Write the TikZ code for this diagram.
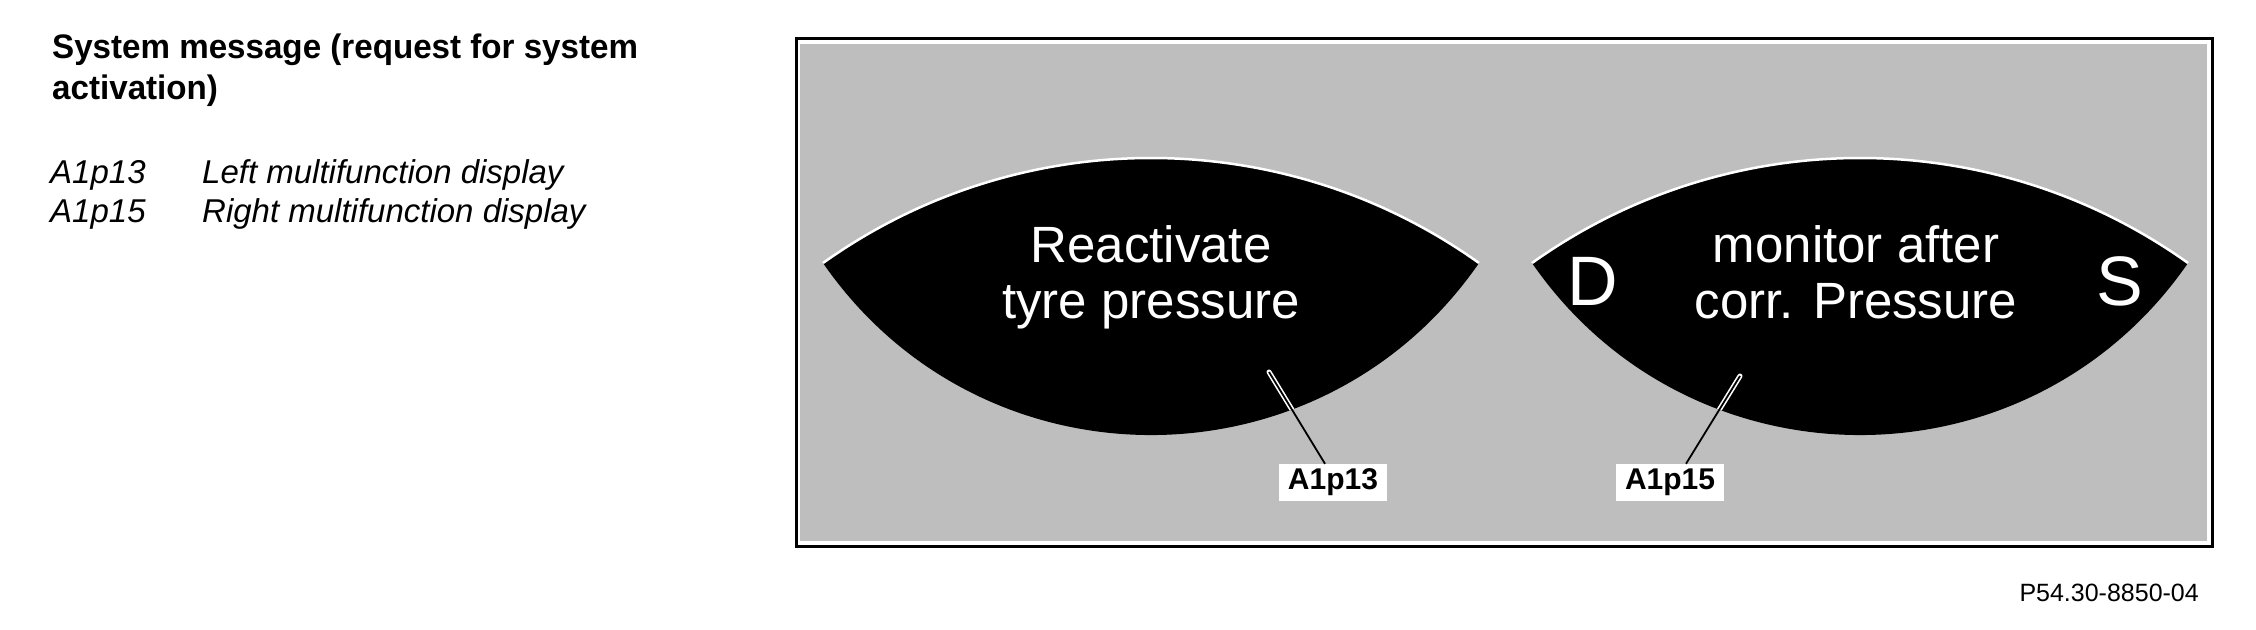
\documentclass[tikz,border=0pt]{standalone}
\usepackage{fontspec}
\setmainfont{Liberation Sans}
\newfontfamily\headfont[FakeStretch=0.975]{Liberation Sans}
\definecolor{panelgray}{RGB}{190,190,190}
\begin{document}
\begin{tikzpicture}[x=1pt,y=-1pt,
  heading/.style={font=\headfont\bfseries\fontsize{34}{41}\selectfont, anchor=base west, inner sep=0pt},
  legend/.style={font=\itshape\fontsize{33}{39}\selectfont, anchor=base west, inner sep=0pt},
  disptext/.style={font=\fontsize{51}{56}\selectfont, text=white, anchor=base, inner sep=0pt},
  dsletter/.style={font=\fontsize{70}{70}\selectfont, text=white, anchor=base, inner sep=0pt},
  partlabel/.style={fill=white, font=\bfseries\fontsize{30}{30}\selectfont, minimum width=108pt, minimum height=37pt, inner sep=0pt},
  leadercase/.style={white, line width=5pt},
  leader/.style={black, line width=1.8pt},
  rim/.style={white, line width=2.5pt}
]
\useasboundingbox (0,0) rectangle (2256,629);
% left legend
\node[heading] (h1) at (52,58) {System message (request for system};
\node[heading] (h2) at (52,99) {activation)};
\node[legend] (k1) at (50,183) {A1p13};
\node[legend] (d1) at (202,183) {Left multifunction display};
\node[legend] (k2) at (50,222) {A1p15};
\node[legend] (d2) at (202,222) {Right multifunction display};
% frame and panel
\draw[line width=3pt] (796,38) rectangle (2212,546);
\fill[panelgray] (800,44) rectangle (2207,541);
% lenses
\def\lensL{(823,263) .. controls (1019.2,123) and (1282.8,123) .. (1479,263) .. controls (1320.5,492.4) and (981.5,492.4) .. (823,263) -- cycle}
\def\lensR{(1532,263) .. controls (1728.2,123) and (1991.8,123) .. (2188,263) .. controls (2029.5,492.4) and (1690.5,492.4) .. (1532,263) -- cycle}
\fill[black] \lensL;
\fill[black] \lensR;
\draw[rim] (823,263) .. controls (1019.2,123) and (1282.8,123) .. (1479,263);
\draw[rim] (1532,263) .. controls (1728.2,123) and (1991.8,123) .. (2188,263);
% display texts
\node[disptext] (t1) at (1151,262) {Reactivate};
\node[disptext] (t2) at (1151,318) {tyre pressure};
\node[disptext] (t3) at (1856,262) {monitor after};
\node[disptext] (t4) at (1856,318) {corr. Pressure};
\node[dsletter] (dl) at (1593,305) {D};
\node[dsletter] (sl) at (2120,305) {S};
% labels and leaders
\node[partlabel] (lab13) at (1333,482.5) {A1p13};
\node[partlabel] (lab15) at (1670,482.5) {A1p15};
\coordinate (p13) at (1269,372);
\coordinate (p15) at (1740,376);
\begin{scope}
  \clip \lensL;
  \draw[leadercase, line cap=round] (p13) -- ([xshift=-8pt]lab13.north);
\end{scope}
\begin{scope}
  \clip \lensR;
  \draw[leadercase, line cap=round] (p15) -- ([xshift=16pt]lab15.north);
\end{scope}
\draw[leader] (p13) -- ([xshift=-8pt]lab13.north);
\draw[leader] (p15) -- ([xshift=16pt]lab15.north);
% footer
\node[font=\fontsize{25}{25}\selectfont, anchor=base east, inner sep=0pt] (ref) at (2199,601) {P54.30-8850-04};
\end{tikzpicture}
\end{document}
